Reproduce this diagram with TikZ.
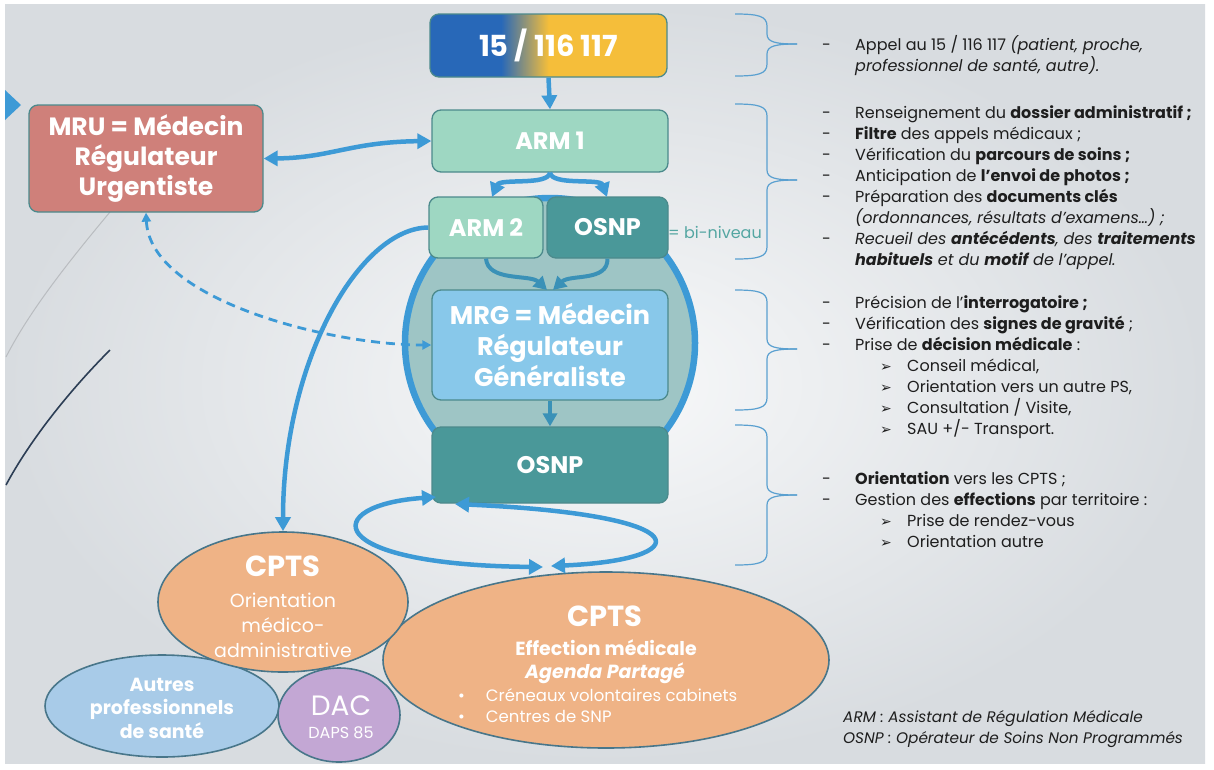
\documentclass[tikz,border=0pt]{standalone}
\usepackage{fontspec}
\setmainfont{Poppins}
\newfontfamily\symfont{DejaVu Sans}
\usetikzlibrary{arrows.meta,shapes.geometric}
\newcommand\fsz[2]{\fontsize{#1}{#2}\selectfont}
\definecolor{abl}{RGB}{61,154,214}
\definecolor{abltwo}{RGB}{58,145,183}
\definecolor{ringfill}{RGB}{158,197,197}
\definecolor{mrgfill}{RGB}{136,200,234}
\definecolor{armfill}{RGB}{158,215,194}
\definecolor{osnpfill}{RGB}{74,152,153}
\definecolor{mrufill}{RGB}{207,128,122}
\definecolor{peach}{RGB}{239,179,134}
\definecolor{autfill}{RGB}{168,203,232}
\definecolor{dacfill}{RGB}{195,167,212}
\definecolor{bdr}{RGB}{76,138,140}
\definecolor{ebdr}{RGB}{72,118,138}
\definecolor{txt}{RGB}{30,30,30}
\definecolor{brc}{RGB}{90,160,208}
\definecolor{tealtxt}{RGB}{84,166,162}
\definecolor{cblue}{RGB}{40,104,184}
\definecolor{cyel}{RGB}{245,190,58}
\definecolor{bgin}{RGB}{248,249,250}
\definecolor{bgout}{RGB}{216,220,224}
\pgfdeclarehorizontalshading{callshade}{100bp}{color(0bp)=(cblue); color(40bp)=(cblue); color(50bp)=(cyel); color(100bp)=(cyel)}
\newcommand\mybrc[3]{%
  \draw[brcline] (735,#1) .. controls (758,#1) and (767,#1+2) .. (767,#1+12) -- (767,#2-10) .. controls (767,#2-2) and (775,#2) .. (797,#2);
  \draw[brcline] (797,#2) .. controls (775,#2) and (767,#2+2) .. (767,#2+10) -- (767,#3-12) .. controls (767,#3-2) and (758,#3) .. (735,#3);}
\newcommand\subarr{\hspace*{25pt}\makebox[27pt][l]{\symfont\fsz{14}{21}➢}}
\begin{document}
\begin{tikzpicture}[x=1pt,y=-1pt,
  box/.style={draw=bdr, line width=1.3pt, rounded corners=9pt, text=white, font=\bfseries\fsz{24}{28}, inner sep=0pt, align=center},
  ell/.style={ellipse, draw=ebdr, line width=1.6pt, inner sep=0pt},
  wt/.style={text=white, inner sep=0pt, align=center},
  arr/.style={draw=abl, line width=4.5pt, -{Triangle[length=14pt,width=15pt]}},
  darr/.style={draw=abl, line width=4.5pt, {Triangle[length=14pt,width=15pt]}-{Triangle[length=14pt,width=15pt]}},
  arrtwo/.style={draw=abltwo, line width=4pt, -{Triangle[length=13pt,width=14pt]}},
  dasharr/.style={draw=abl, line width=2.8pt, dash pattern=on 9pt off 6pt, {Triangle[length=9pt,width=9pt]}-{Triangle[length=9pt,width=9pt]}},
  brcline/.style={draw=brc, line width=1.2pt},
  rtext/.style={anchor=north west, inner sep=0pt, text=txt, font=\fsz{16}{21}}]
\useasboundingbox (0,0) rectangle (1214,769);
\fill[white] (0,0) rectangle (1214,769);
\shade[inner color=bgin, outer color=bgout] (5,4) rectangle (1205,763);
% decorations
\fill[abl] (5,90) -- (21,105) -- (5,120) -- cycle;
\draw[color={rgb,255:red,185;green,188;blue,192}, line width=1pt] (110,212) .. controls (70,260) and (30,310) .. (6,357);
\draw[color={rgb,255:red,44;green,62;blue,85}, line width=1.6pt] (110,350) .. controls (70,390) and (30,440) .. (6,485);
% braces
\mybrc{14}{44}{76}
\mybrc{104}{180}{259}
\mybrc{290}{349}{410}
\mybrc{425}{495}{565}
% ring
\node[circle, draw=abl, line width=6.5pt, fill=ringfill, minimum size=290pt, inner sep=0pt] (ring) at (550,343) {};
% boxes
\node[box, shade, shading=callshade, minimum width=237pt, minimum height=63pt, font=\bfseries\fsz{29}{32}] (call) at (548.5,45.5) {15 / 116 117};
\node[box, fill=armfill, minimum width=236pt, minimum height=62pt] (arm1) at (550,141) {ARM 1};
\node[box, fill=armfill, minimum width=114pt, minimum height=61pt] (arm2) at (486,227.5) {ARM 2};
\node[box, fill=osnpfill, minimum width=121pt, minimum height=61pt] (osnp1) at (607.5,227.5) {OSNP};
\node[anchor=west, inner sep=0pt, text=tealtxt, font=\fsz{16}{20}] (bini) at (668,232) {= bi-niveau};
\node[box, fill=mrgfill, minimum width=236pt, minimum height=110pt, font=\bfseries\fsz{25.5}{31}] (mrg) at (550,345) {MRG = Médecin\\Régulateur\\Généraliste};
\node[box, fill=osnpfill, minimum width=236pt, minimum height=76pt] (osnp2) at (550,465) {OSNP};
\node[box, fill=mrufill, minimum width=234pt, minimum height=107pt, font=\bfseries\fsz{25}{30}] (mru) at (146,158.5) {MRU = Médecin\\Régulateur\\Urgentiste};
% ellipses
\node[ell, fill=peach, minimum width=446pt, minimum height=176pt] (cpts2) at (606,660) {};
\node[ell, fill=autfill, minimum width=234pt, minimum height=102pt] (autres) at (162,706) {};
\node[ell, fill=peach, minimum width=250pt, minimum height=140pt] (cpts1) at (283,602) {};
\node[ell, fill=dacfill, minimum width=122pt, minimum height=94pt] (dac) at (339,715) {};
% ellipse texts
\node[wt, font=\bfseries\fsz{29}{32}] (c1a) at (283,566) {CPTS};
\node[wt, font=\fsz{19}{25}] (c1b) at (283,625) {Orientation\\médico-\\administrative};
\node[wt, font=\bfseries\fsz{19}{23.5}] (aut) at (162,708) {Autres\\professionnels\\de santé};
\node[wt, font=\fsz{28}{30}] (daca) at (341,706) {DAC};
\node[wt, font=\fsz{16}{18}] (dacb) at (341,733) {DAPS 85};
\node[wt, font=\bfseries\fsz{29}{32}] (c2a) at (605,616) {CPTS};
\node[wt, font=\bfseries\fsz{19}{22}] (c2b) at (606,648) {Effection médicale};
\node[wt, font=\bfseries\itshape\fsz{19}{22}] (c2c) at (605,673) {Agenda Partagé};
\node[wt, anchor=west, font=\fsz{16.5}{21}] (c2d) at (458,695) {•\hspace{21pt}Créneaux volontaires cabinets};
\node[wt, anchor=west, font=\fsz{16.5}{21}] (c2e) at (458,716) {•\hspace{21pt}Centres de SNP};
% connectors
\coordinate (la) at (543,567);
\coordinate (lb) at (436,497);
\coordinate (ra) at (455,504);
\coordinate (rb) at (551,566);
\coordinate (s1) at (492,197);
\coordinate (s2) at (607,197);
\coordinate (m1) at (547,290);
\coordinate (m2) at (553,290);
\draw[arr] (call.south) -- (arm1.north);
\draw[arr] (arm1.south) .. controls (548,186) and (500,178) .. (s1);
\draw[arr] (arm1.south) .. controls (552,186) and (600,178) .. (s2);
\draw[arrtwo] (arm2.south) .. controls (488,282) and (530,274) .. (m1);
\draw[arrtwo] (osnp1.south) .. controls (608,282) and (570,274) .. (m2);
\draw[arrtwo] (mrg.south) -- (osnp2.north);
\draw[darr] (mru.east) .. controls (330,158) and (350,142) .. (arm1.west);
\draw[dasharr] (mru.south) .. controls (150,300) and (330,345) .. (mrg.west);
\draw[arr] (arm2.west) .. controls (360,228) and (283,360) .. (cpts1.north);
\draw[darr] (la) .. controls (320,565) and (320,505) .. (lb);
\draw[darr] (ra) .. controls (705,515) and (695,560) .. (rb);
% right texts
\node[rtext] (b1) at (822,35.3) {\begin{tabular}{@{}p{33pt}@{}l@{}}
-&Appel au 15 / 116 117 \textit{(patient, proche,}\\
&\textit{professionnel de santé, autre).}
\end{tabular}};
\node[rtext] (b2) at (822,103.3) {\begin{tabular}{@{}p{33pt}@{}l@{}}
-&Renseignement du \textbf{dossier administratif ;}\\
-&\textbf{Filtre} des appels médicaux ;\\
-&Vérification du \textbf{parcours de soins ;}\\
-&Anticipation de \textbf{l'envoi de photos ;}\\
-&Préparation des \textbf{documents clés}\\
&\textit{(ordonnances, résultats d'examens…) ;}\\
-&\textit{Recueil des \textbf{antécédents}, des \textbf{traitements}}\\
&\textit{\textbf{habituels} et du \textbf{motif} de l'appel.}
\end{tabular}};
\node[rtext] (b3) at (822,293.3) {\begin{tabular}{@{}p{33pt}@{}l@{}}
-&Précision de l'\textbf{interrogatoire ;}\\
-&Vérification des \textbf{signes de gravité} ;\\
-&Prise de \textbf{décision médicale} :\\
&\subarr Conseil médical,\\
&\subarr Orientation vers un autre PS,\\
&\subarr Consultation / Visite,\\
&\subarr SAU +/- Transport.
\end{tabular}};
\node[rtext] (b4) at (822,469.3) {\begin{tabular}{@{}p{33pt}@{}l@{}}
-&\textbf{Orientation} vers les CPTS ;\\
-&Gestion des \textbf{effections} par territoire :\\
&\subarr Prise de rendez-vous\\
&\subarr Orientation autre
\end{tabular}};
\node[rtext, align=left, font=\itshape\fsz{15.3}{21}] (leg) at (843,710.3) {ARM : Assistant de Régulation Médicale\\OSNP : Opérateur de Soins Non Programmés};
\end{tikzpicture}
\end{document}
